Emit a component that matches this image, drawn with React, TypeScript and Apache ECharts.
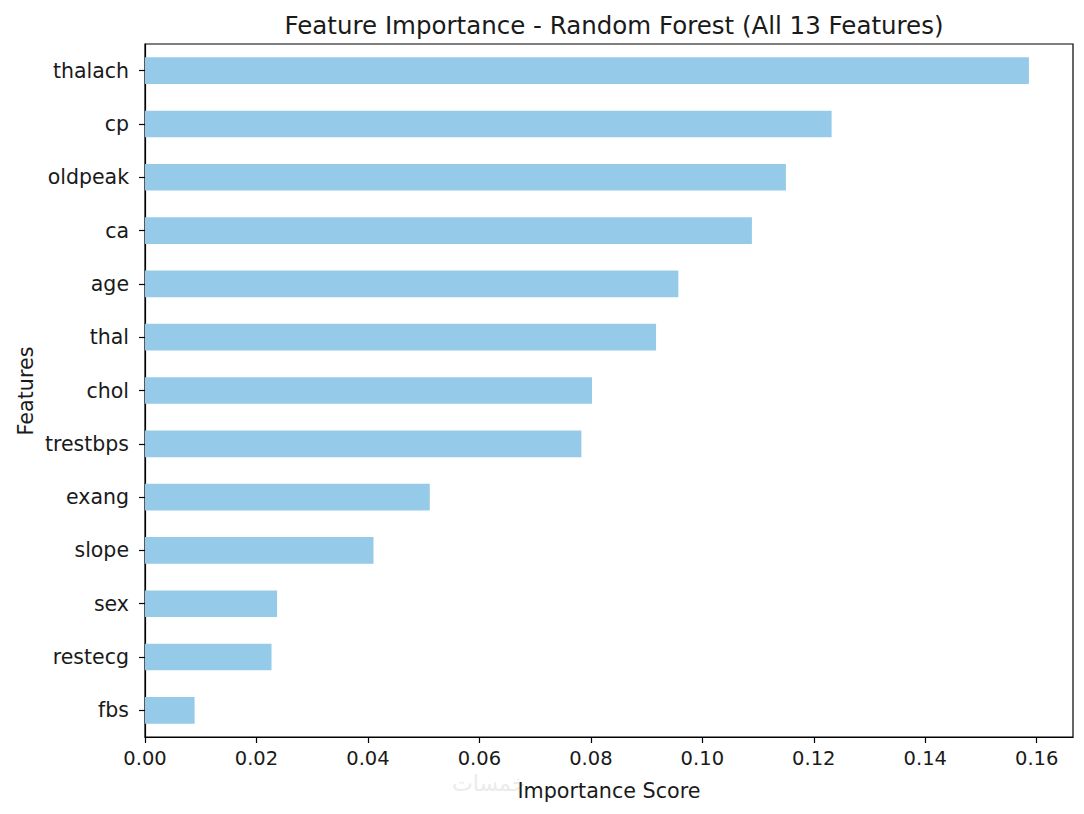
import React, { useEffect, useRef } from "react";
import * as echarts from "echarts";

const features = ["thalach", "cp", "oldpeak", "ca", "age", "thal", "chol", "trestbps", "exang", "slope", "sex", "restecg", "fbs"];
const importance = [0.1586, 0.1232, 0.1150, 0.1089, 0.0957, 0.0917, 0.0802, 0.0783, 0.0511, 0.0410, 0.0237, 0.0227, 0.0089];
const xTicks = [0, 0.02, 0.04, 0.06, 0.08, 0.1, 0.12, 0.14, 0.16];

const FONT = "DejaVu Sans";

export default function App() {
  const ref = useRef<HTMLDivElement>(null);
  useEffect(() => {
    if (!ref.current) return;
    const chart = echarts.init(ref.current, null, { renderer: "svg" });
    chart.setOption({
      animation: false,
      backgroundColor: "#ffffff",
      title: {
        text: "Feature Importance - Random Forest (All 13 Features)",
        left: 609,
        top: 8,
        textAlign: "center",
        textStyle: { fontFamily: FONT, fontSize: 24.5, fontWeight: "normal", color: "#1a1a1a" },
      },
      grid: {
        left: 145,
        right: 11,
        top: 44,
        bottom: 77,
        show: true,
        borderColor: "#000",
        borderWidth: 1.2,
        backgroundColor: "transparent",
      },
      xAxis: {
        type: "value",
        min: 0,
        max: 0.16651,
        interval: 0.02,
        axisLine: { show: true, lineStyle: { color: "#000", width: 1.2 } },
        axisTick: { show: true, length: 6, lineStyle: { color: "#000", width: 1.2 } },
        splitLine: { show: false },
        axisLabel: {
          fontFamily: FONT,
          fontSize: 19.5,
          color: "#1a1a1a",
          margin: 11,
          showMaxLabel: false,
          formatter: (v: number) => (xTicks.some((t) => Math.abs(t - v) < 1e-9) ? v.toFixed(2) : ""),
        },
      },
      yAxis: {
        type: "category",
        data: features,
        inverse: true,
        axisLine: { show: true, lineStyle: { color: "#000", width: 1.2 } },
        axisTick: { show: true, alignWithLabel: true, length: 6, lineStyle: { color: "#000", width: 1.2 } },
        axisLabel: { fontFamily: FONT, fontSize: 20.5, color: "#1a1a1a", margin: 16 },
        splitLine: { show: false },
      },
      series: [
        {
          type: "bar",
          data: importance,
          barWidth: "50%",
          itemStyle: { color: "#95cbe8" },
        },
      ],
      graphic: [
        {
          type: "text",
          left: 452,
          top: 772,
          silent: true,
          z: -1,
          style: { text: "خمسات", fontFamily: FONT, fontSize: 22, fill: "#ebebeb" },
        },
        {
          type: "text",
          x: 609,
          y: 791,
          style: {
            text: "Importance Score",
            fontFamily: FONT,
            fontSize: 20.7,
            fill: "#1a1a1a",
            textAlign: "center",
            textVerticalAlign: "middle",
          },
        },
        {
          type: "text",
          x: 26,
          y: 391,
          rotation: Math.PI / 2,
          style: {
            text: "Features",
            fontFamily: FONT,
            fontSize: 20.7,
            fill: "#1a1a1a",
            textAlign: "center",
            textVerticalAlign: "middle",
          },
        },
      ],
    });
    return () => chart.dispose();
  }, []);
  return <div ref={ref} style={{ width: 1084, height: 814, position: "absolute", left: 0, top: 0 }} />;
}
